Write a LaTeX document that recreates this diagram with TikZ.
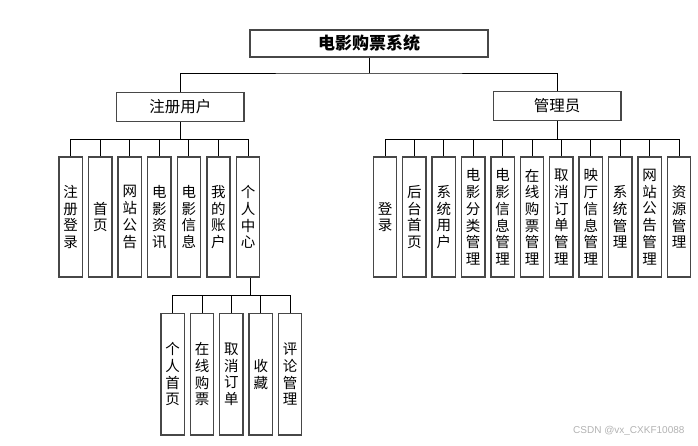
\documentclass[tikz,border=0pt]{standalone}
\usepackage{fontspec}
\usepackage{tikz}
\newfontfamily\cjk{Noto Sans CJK SC}
\newfontfamily\wmfont{Liberation Sans}
\tikzstyle{box} = [draw=black!72, line width=1.4pt, inner sep=0pt, align=center]
\tikzstyle{leaf} = [box, minimum width=23.3pt, minimum height=119.7pt, font=\cjk\fontsize{14.5}{16.7}\selectfont]
\tikzstyle{mid} = [box, minimum width=127.5pt, minimum height=28.5pt, font=\cjk\fontsize{15.5}{18}\selectfont]
\tikzstyle{link} = [draw=black, line width=0.9pt]

\begin{document}
\begin{tikzpicture}[x=1pt,y=-1pt]
				%\draw[help lines,step=10] (0,0) grid (698,445);
				\useasboundingbox (0,0) rectangle (698,445);
				\node [box, minimum width=238pt, minimum height=27pt, font=\cjk\fontsize{17}{20}\selectfont\bfseries] (sys) at (369,43.5) {电影购票系统};
				\node [mid] (reg) at (180.3,107) {注册用户};
				\node [mid] (adm) at (557.2,106) {管理员};
				
				% user side
				\foreach \t [count=\i] in {注\\册\\登\\录, 首\\页, 网\\站\\公\\告, 电\\影\\资\\讯, 电\\影\\信\\息, 我\\的\\账\\户, 个\\人\\中\\心}
					\node [leaf] (u\i) at (70.7+29.55*\i-29.55,217) {\t};
				% admin side
				\foreach \t [count=\i] in {登\\录, 后\\台\\首\\页, 系\\统\\用\\户, 电\\影\\分\\类\\管\\理, 电\\影\\信\\息\\管\\理, 在\\线\\购\\票\\管\\理, 取\\消\\订\\单\\管\\理, 映\\厅\\信\\息\\管\\理, 系\\统\\管\\理, 网\\站\\公\\告\\管\\理, 资\\源\\管\\理}
					\node [leaf] (a\i) at (385+29.4*\i-29.4,217) {\t};
				% personal center
				\foreach \t [count=\i] in {个\\人\\首\\页, 在\\线\\购\\票, 取\\消\\订\\单, 收\\藏, 评\\论\\管\\理}
					\node [leaf, minimum height=121.7pt] (p\i) at (172.7+29.35*\i-29.35,374.2) {\t};
				
				\coordinate (b0) at (369,73);
				\coordinate (b1) at (180.3,139.3);
				\coordinate (b2) at (557.2,139.3);
				\coordinate (b3) at (250,295);
				\draw [link] (sys) -- (b0);
				\draw [link] (reg.north) |- (b0) -| (adm.north);
				\draw [link] (reg) -- (b1);
				\draw [link] (adm) -- (b2);
				\foreach \i in {1,...,7}
					\draw [link] (b1) -| (u\i.north);
				\foreach \i in {1,...,11}
					\draw [link] (b2) -| (a\i.north);
				\draw [link] (b3 |- u7.south) -- (b3);
				\foreach \i in {1,...,5}
					\draw [link] (b3) -| (p\i.north);
				
				\node [font=\wmfont\fontsize{10}{12}\selectfont, text=black!30, anchor=east] (wm) at (688,431) {CSDN @vx\_CXKF10088};
			\end{tikzpicture}
\end{document}
